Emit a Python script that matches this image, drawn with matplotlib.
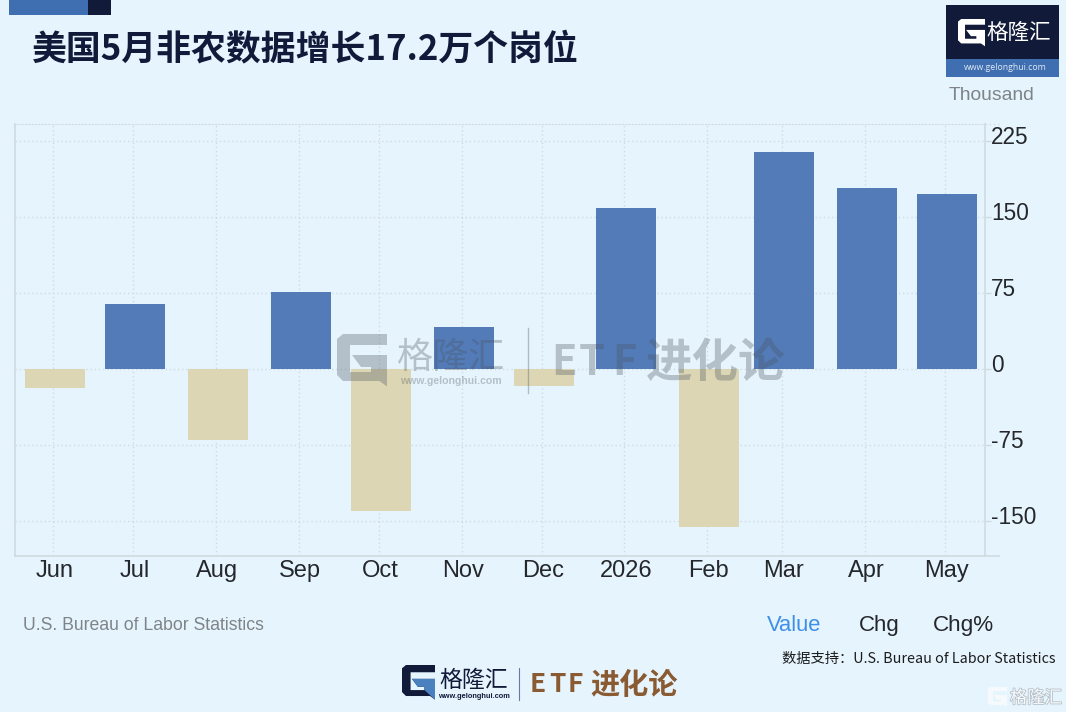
import matplotlib
matplotlib.use("Agg")
import matplotlib.pyplot as plt
import matplotlib.dates as mdates
import matplotlib.transforms as mtrans
import matplotlib.patheffects as pe
from matplotlib.patches import Rectangle, Polygon
from datetime import date

months = [date(2025,6,1),date(2025,7,1),date(2025,8,1),date(2025,9,1),date(2025,10,1),date(2025,11,1),
          date(2025,12,1),date(2026,1,1),date(2026,2,1),date(2026,3,1),date(2026,4,1),date(2026,5,1)]
values = [-19, 64, -71, 75.5, -141, 41, -17, 158, -156.5, 213.5, 178, 172]
tick_labels = ["Jun","Jul","Aug","Sep","Oct","Nov","Dec","2026","Feb","Mar","Apr","May"]
y_ticks = [-150, -75, 0, 75, 150, 225]

W, H = 1066, 712
BG = "#e6f4fd"
NAVY = "#121a3a"
BLUE = "#3f6fb0"
BROWN = "#8a5a32"
CJK = ["Noto Sans CJK SC", "DejaVu Sans"]
SANS = ["Liberation Sans", "DejaVu Sans"]

fig = plt.figure(figsize=(W/100, H/100), dpi=100, facecolor=BG)
def fx(x): return x/W
def fy(y): return 1-y/H

ax = fig.add_axes([fx(15), fy(556), fx(985)-fx(15), fy(124)-fy(556)], facecolor="none")
xs = mdates.date2num(months)
colors = ["#527bb7" if v >= 0 else "#dcd6b4" for v in values]
ax.bar(xs, values, width=22.5, color=colors, zorder=3)
ax.set_xlim(xs[0]-15, xs[-1]+14.3)
ax.set_ylim(-185.0, 241.3)
ax.set_xticks(xs-0.75, tick_labels)
ax.set_yticks(y_ticks, [str(t) for t in y_ticks])
ax.yaxis.tick_right()
ax.grid(True, color="#cfdbe3", linestyle=(0,(1,2)), linewidth=1, zorder=1)
ax.tick_params(axis="x", length=0, pad=2.8, labelsize=17.0, labelcolor="#24272b")
ax.tick_params(axis="y", length=4.5, width=1, color="#cfdbe0", pad=0, labelsize=16.3, labelcolor="#24272b")
for l in ax.get_xticklabels() + ax.get_yticklabels():
    l.set_family(SANS)
for l in ax.get_xticklabels():
    l.set_transform(l.get_transform() + mtrans.ScaledTranslation(1.3/100, 0, fig.dpi_scale_trans))
for l in ax.get_yticklabels():
    l.set_verticalalignment("center")
    l.set_transform(l.get_transform() + mtrans.ScaledTranslation(0, 3/100, fig.dpi_scale_trans))
ax.spines["top"].set_linestyle((0,(1,2)))
ax.spines["top"].set_color("#cfdbe3")
for s in ["left","right","bottom"]:
    ax.spines[s].set_color("#cfdbe0")
    ax.spines[s].set_linewidth(1.2)

ov = fig.add_axes([0,0,1,1], facecolor="none", zorder=5)
ov.set_xlim(0, W); ov.set_ylim(H, 0); ov.axis("off")

def rect(x0,y0,x1,y1,c,alpha=1,z=1):
    ov.add_patch(Rectangle((x0,y0),x1-x0,y1-y0,facecolor=c,edgecolor="none",alpha=alpha,zorder=z))

def g_logo(x,y,w,h,c,alpha=1,tail=None):
    def P(pts,col=c):
        ov.add_patch(Polygon([(x+a*w,y+b*h) for a,b in pts],closed=True,facecolor=col,edgecolor="none",alpha=alpha,zorder=2))
    P([(0.12,0),(1,0),(1,0.22),(0.26,0.22),(0.26,0.76),(0.68,0.76),(0.68,0.66),(0.48,0.66),(0.3,0.42),(1,0.42),(1,1.05),(0.85,0.94),(0.12,0.94),(0,0.82),(0,0.1)])
    if tail:
        P([(0.3,0.42),(1,0.42),(1,1.05),(0.68,0.76),(0.68,0.66),(0.48,0.66)],tail)

def spaced(text, lefts, y, size, color, alpha=1):
    for ch, x in zip(text, lefts):
        ov.text(x,y,ch,family=CJK,fontsize=size,fontweight="bold",color=color,alpha=alpha,va="center",ha="left")

# extensions of the top and bottom rules past the right spine
ov.plot([985,998.5],[124,124],color="#cfdbe3",lw=1,ls=(0,(1,2)))
ov.plot([985,998.5],[556,556],color="#cfdbe0",lw=1.2)

# top-left ribbon
rect(9,0,88,15,BLUE)
rect(88,0,110.5,15,NAVY)

# title
ov.text(32,48.5,"美国5月非农数据增长17.2万个岗位",family=CJK,fontsize=25.1,fontweight="bold",color=NAVY,va="center",ha="left")

# top-right logo
rect(946,5,1059,59,NAVY)
rect(946,59,1059,76.5,BLUE)
g_logo(958,19,27,26,"white")
ov.text(1019,34,"格隆汇",family=CJK,fontsize=15.5,color="white",va="center",ha="center")
ov.text(1005,67,"www.gelonghui.com",family=["Open Sans","DejaVu Sans"],fontsize=6.3,color="#dfe8f5",va="center",ha="center")
ov.text(949,96,"Thousand",family=SANS,fontsize=13.9,color="#7e8488",va="center",ha="left")

# watermark
wm = "#4a5560"
g_logo(337,334,50,50,wm,alpha=0.32)
ov.text(451,358,"格隆汇",family=CJK,fontsize=26,color=wm,alpha=0.32,va="center",ha="center")
ov.text(451,381,"www.gelonghui.com",family=SANS,fontsize=7.6,color=wm,alpha=0.32,va="center",ha="center",fontweight="bold")
ov.plot([527.5,527.5],[328,393],color=wm,alpha=0.35,lw=1)
spaced("ETF",[551,579,612],363,30,wm,0.32)
ov.text(716,363,"进化论",family=["Noto Sans CJK SC"],fontsize=33.5,fontweight="bold",color=wm,alpha=0.32,va="center",ha="center")

# footer
ov.text(23,625,"U.S. Bureau of Labor Statistics",family=SANS,fontsize=12.7,color="#7e8488",va="center",ha="left")
ov.text(794.5,625.5,"Value",family=SANS,fontsize=15.8,color="#3d8fe8",va="center",ha="center")
ov.text(879,625.5,"Chg",family=SANS,fontsize=16,color="#24272b",va="center",ha="center")
ov.text(963,625.5,"Chg%",family=SANS,fontsize=16.2,color="#24272b",va="center",ha="center")
ov.text(1056,659,"数据支持：U.S. Bureau of Labor Statistics",family=CJK,fontsize=10.3,color="#1c1c1c",va="center",ha="right")

g_logo(402,665,33,33,NAVY,tail="#4a7fc0")
ov.text(474,680.5,"格隆汇",family=CJK,fontsize=16.5,color=NAVY,va="center",ha="center")
ov.text(474,696,"www.gelonghui.com",family=SANS,fontsize=5.3,color=NAVY,va="center",ha="center",fontweight="bold")
ov.plot([519,519],[668,700],color="#6a78a8",lw=0.8)
spaced("ETF",[530,549,568],685,19,BROWN)
ov.text(634,685,"进化论",family=["Noto Sans CJK SC"],fontsize=21,fontweight="bold",color=BROWN,va="center",ha="center")

# corner stamp
stroke = [pe.withStroke(linewidth=1.2, foreground="#b4c0c9")]
g_logo(988,687,19,19,"#f7fafc")
ov.text(1036,698,"格隆汇",family=CJK,fontsize=12.5,color="#f7fafc",va="center",ha="center",path_effects=stroke)

fig.savefig("out.png", dpi=100, facecolor=BG)
